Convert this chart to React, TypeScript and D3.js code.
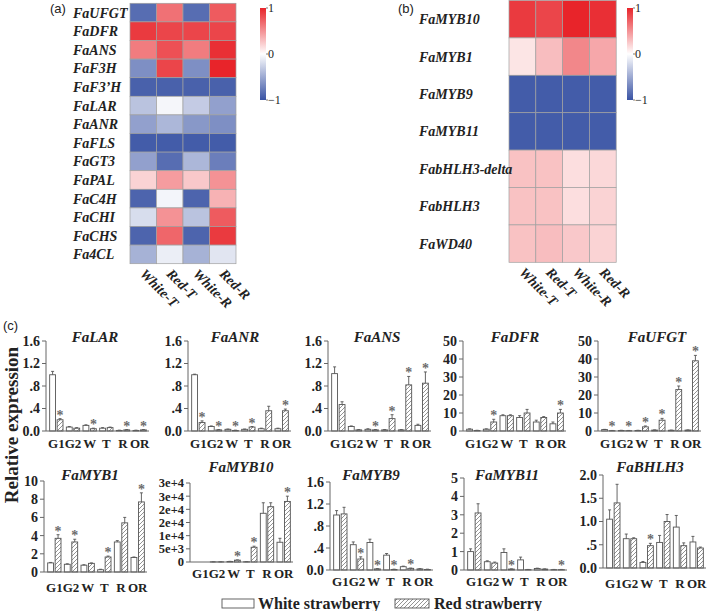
import React from "react";
import * as d3 from "d3";

// ---------- Heatmap data ----------
const heatCols = ["White-T", "Red-T", "White-R", "Red-R"];
const genesA = ["FaUFGT", "FaDFR", "FaANS", "FaF3H", "FaF3’H", "FaLAR", "FaANR", "FaFLS", "FaGT3", "FaPAL", "FaC4H", "FaCHI", "FaCHS", "Fa4CL"];
const valuesA = [
  [-0.85, 0.65, -0.85, 0.75],
  [0.9, 0.85, 0.85, 0.85],
  [0.6, 0.8, 0.6, 0.95],
  [-0.65, 0.85, -0.65, 1.0],
  [-0.92, -0.92, -0.92, -0.92],
  [-0.35, -0.05, -0.3, -0.55],
  [-0.55, -0.42, -0.6, -0.65],
  [-0.95, -0.95, -0.95, -0.95],
  [-0.55, -0.85, -0.42, -0.75],
  [0.2, 0.45, 0.25, 0.5],
  [-0.9, -0.06, -0.9, 0.35],
  [-0.2, 0.5, -0.35, 0.75],
  [-0.9, 0.7, -0.9, 0.9],
  [-0.45, -0.1, -0.45, -0.15],
];
const genesB = ["FaMYB10", "FaMYB1", "FaMYB9", "FaMYB11", "FabHLH3-delta", "FabHLH3", "FaWD40"];
const valuesB = [
  [0.9, 0.85, 1.0, 0.95],
  [0.12, 0.3, 0.55, 0.4],
  [-0.95, -0.95, -0.95, -0.95],
  [-0.95, -0.95, -0.95, -0.95],
  [0.28, 0.28, 0.15, 0.18],
  [0.28, 0.28, 0.15, 0.2],
  [0.28, 0.3, 0.25, 0.2],
];
const colorbarTicks = [1, 0, -1];
const colorbarLabels = ["1", "0", "−1"];

// ---------- Bar chart data ----------
const stages = ["G1", "G2", "W", "T", "R", "OR"];
const panelNames = ["FaLAR", "FaANR", "FaANS", "FaDFR", "FaUFGT", "FaMYB1", "FaMYB10", "FaMYB9", "FaMYB11", "FaBHLH3"];
const whiteVals = [
  [1.0, 0.07, 0.1, 0.05, 0.01, 0.01],
  [1.0, 0.08, 0.03, 0.03, 0.04, 0.04],
  [1.02, 0.08, 0.03, 0.02, 0.02, 0.1],
  [1, 1, 8.5, 7.5, 5, 4],
  [0.8, 0.3, 0.3, 0.5, 0.4, 0.5],
  [1.0, 0.85, 0.75, 0.25, 3.3, 1.6],
  [0, 60, 200, 100, 18500, 7500],
  [1.0, 0.46, 0.5, 0.27, 0.06, 0.02],
  [1.0, 0.45, 0.95, 0.55, 0.08, 0.02],
  [1.05, 0.63, 0.12, 0.55, 0.88, 0.56],
];
const redVals = [
  [0.2, 0.05, 0.04, 0.06, 0.02, 0.02],
  [0.15, 0.02, 0.01, 0.07, 0.36, 0.36],
  [0.47, 0.02, 0.02, 0.22, 0.82, 0.85],
  [0.3, 5, 8.5, 10, 7.5, 10],
  [0.2, 0.2, 2.3, 6, 23, 39],
  [3.7, 3.3, 0.95, 1.65, 5.4, 7.7],
  [0, 60, 700, 5600, 21000, 23000],
  [1.02, 0.2, 0.02, 0.01, 0.03, 0.01],
  [3.1, 0.38, 0.05, 0.02, 0.05, 0.02],
  [1.4, 0.63, 0.48, 1.0, 0.48, 0.43],
];
const whiteErr = [
  [0.06, 0.01, 0.01, 0.01, 0.005, 0.005],
  [0.01, 0.01, 0.005, 0.005, 0.01, 0.01],
  [0.12, 0.01, 0.01, 0.005, 0.005, 0.02],
  [0.2, 0.2, 0.5, 1, 1, 1],
  [0.1, 0.1, 0.1, 0.1, 0.1, 0.1],
  [0.05, 0.05, 0.05, 0.05, 0.15, 0.05],
  [0, 20, 50, 30, 4000, 1500],
  [0.08, 0.05, 0.06, 0.03, 0.01, 0.005],
  [0.15, 0.05, 0.2, 0.15, 0.02, 0.01],
  [0.2, 0.1, 0.02, 0.15, 0.25, 0.12],
];
const redErr = [
  [0.02, 0.01, 0.01, 0.01, 0.005, 0.005],
  [0.03, 0.005, 0.005, 0.01, 0.08, 0.03],
  [0.05, 0.005, 0.005, 0.07, 0.15, 0.2],
  [0.1, 1.5, 0.5, 2, 0.5, 2],
  [0.1, 0.1, 0.5, 1, 2, 3],
  [0.4, 0.3, 0.05, 0.1, 0.6, 1.0],
  [0, 20, 100, 400, 1500, 2000],
  [0.12, 0.04, 0.005, 0.005, 0.005, 0.005],
  [0.5, 0.05, 0.01, 0.01, 0.01, 0.01],
  [0.4, 0.02, 0.05, 0.15, 0.06, 0.02],
];
const redStars = [
  [1, 0, 1, 0, 1, 1],
  [1, 1, 1, 1, 0, 1],
  [0, 0, 1, 1, 1, 1],
  [0, 1, 0, 0, 0, 1],
  [1, 1, 1, 1, 1, 1],
  [1, 1, 0, 1, 0, 1],
  [0, 0, 1, 1, 0, 1],
  [0, 1, 1, 1, 1, 0],
  [0, 0, 1, 0, 0, 1],
  [0, 0, 1, 0, 0, 0],
];
const yMax = [1.6, 1.6, 1.6, 50, 50, 10, 30000, 1.6, 5, 2];
const yTicks = [
  [0, 0.4, 0.8, 1.2, 1.6],
  [0, 0.4, 0.8, 1.2, 1.6],
  [0, 0.4, 0.8, 1.2, 1.6],
  [0, 10, 20, 30, 40, 50],
  [0, 10, 20, 30, 40, 50],
  [0, 2, 4, 6, 8, 10],
  [0, 5000, 10000, 15000, 20000, 25000, 30000],
  [0, 0.4, 0.8, 1.2, 1.6],
  [0, 1, 2, 3, 4, 5],
  [0, 0.5, 1, 1.5, 2],
];
const yTickLabels = [
  ["0.0", ".4", ".8", "1.2", "1.6"],
  ["0.0", ".4", ".8", "1.2", "1.6"],
  ["0.0", ".4", ".8", "1.2", "1.6"],
  ["0", "10", "20", "30", "40", "50"],
  ["0", "10", "20", "30", "40", "50"],
  ["0", "2", "4", "6", "8", "10"],
  ["0", "5e+3", "1e+4", "2e+4", "2e+4", "3e+4", "3e+4"],
  ["0.0", ".4", ".8", "1.2", "1.6"],
  ["0", "1", "2", "3", "4", "5"],
  ["0.0", ".5", "1.0", "1.5", "2.0"],
];
const legendLabels = ["White strawberry", "Red strawberry"];

// ---------- Layout (positions only) ----------
const layout = [
  { x0: 46, top: 341, zero: 431, lab: 448, tx: 95, ty: 342, fs: 14 },
  { x0: 188, top: 341, zero: 431, lab: 448, tx: 235, ty: 342, fs: 14 },
  { x0: 328, top: 341, zero: 431, lab: 448, tx: 377, ty: 342, fs: 14 },
  { x0: 463, top: 341, zero: 431, lab: 448, tx: 515, ty: 342, fs: 14 },
  { x0: 598, top: 341, zero: 431, lab: 448, tx: 657, ty: 342, fs: 14 },
  { x0: 44, top: 481, zero: 572, lab: 592, tx: 90, ty: 480, fs: 14 },
  { x0: 190, top: 483, zero: 562, lab: 578, tx: 241, ty: 472, fs: 12.5 },
  { x0: 330, top: 482, zero: 570, lab: 586, tx: 371, ty: 480, fs: 14 },
  { x0: 464, top: 478, zero: 570, lab: 586, tx: 507, ty: 480, fs: 14 },
  { x0: 603, top: 475, zero: 568, lab: 588, tx: 650, ty: 472, fs: 14 },
];

const SERIF = "'Liberation Serif', 'Times New Roman', serif";
const SANS = "'Liberation Sans', Arial, sans-serif";
const AXIS = "#666";
const BAR = "#555";

const heatColor = d3
  .scaleLinear<string>()
  .domain([-1, 0, 1])
  .range(["#3953a4", "#ffffff", "#e8242a"])
  .interpolate(d3.interpolateRgb);

function Heatmap({ genes, values, x0, y0, colW, rowH, labelX, cbX }: any) {
  const x = d3.scaleBand().domain(heatCols).range([x0, x0 + colW * heatCols.length]);
  const y = d3.scaleBand().domain(genes).range([y0, y0 + rowH * genes.length]);
  const bottom = y0 + rowH * genes.length;
  const cb = d3.scaleLinear().domain([1, -1]).range([8, 100]);
  return (
    <g>
      {genes.map((g: string, i: number) => (
        <g key={g}>
          {heatCols.map((c, j) => (
            <rect key={c} x={x(c)} y={y(g)} width={x.bandwidth()} height={y.bandwidth()}
              fill={heatColor(values[i][j])} stroke="#a0a0a0" strokeWidth={0.7} />
          ))}
          <text x={labelX} y={(y(g) as number) + y.bandwidth() / 2} dy="0.35em"
            fontFamily={SERIF} fontWeight="bold" fontStyle="italic" fontSize={14} fill="#222">{g}</text>
        </g>
      ))}
      {heatCols.map((c) => {
        const ax = (x(c) as number) + x.bandwidth() / 2 - 4;
        const ay = bottom + 11;
        return (
          <text key={c} x={ax} y={ay} transform={`rotate(45 ${ax} ${ay})`}
            fontFamily={SERIF} fontWeight="bold" fontStyle="italic" fontSize={14} fill="#222">{c}</text>
        );
      })}
      <rect x={cbX} y={8} width={6} height={92} fill={`url(#cbgrad)`} />
      {colorbarTicks.map((t, i) => (
        <g key={t}>
          <line x1={cbX + 6} x2={cbX + 8} y1={cb(t)} y2={cb(t)} stroke="#444" strokeWidth={0.7} />
          <text x={cbX + 8} y={cb(t)} dy="0.35em" fontFamily={SERIF} fontSize={12} fill="#222">{colorbarLabels[i]}</text>
        </g>
      ))}
    </g>
  );
}

function BarPanel({ idx }: { idx: number }) {
  const L = layout[idx];
  const x = d3.scaleBand().domain(stages).range([L.x0 + 2, L.x0 + 102]).paddingInner(0.2).paddingOuter(0.1);
  const y = d3.scaleLinear().domain([0, yMax[idx]]).range([L.zero, L.top]);
  const half = x.bandwidth() / 2;
  const bw = half - 0.8;
  return (
    <g>
      <text x={L.tx} y={L.ty} textAnchor="middle" fontFamily={SERIF} fontWeight="bold" fontStyle="italic" fontSize={15} fill="#222">{panelNames[idx]}</text>
      {stages.map((s, i) => {
        const xw = x(s) as number;
        const xr = xw + half + 0.8;
        const wv = whiteVals[idx][i];
        const rv = redVals[idx][i];
        const wTop = y(wv + whiteErr[idx][i]);
        const rTop = y(rv + redErr[idx][i]);
        return (
          <g key={s}>
            <rect x={xw} y={y(wv)} width={bw} height={L.zero - y(wv)} fill="#fff" stroke={BAR} strokeWidth={0.9} />
            {whiteErr[idx][i] > 0 && (
              <g stroke={BAR} strokeWidth={0.9}>
                <line x1={xw + bw / 2} x2={xw + bw / 2} y1={y(wv)} y2={wTop} />
                <line x1={xw + bw / 2 - 1.5} x2={xw + bw / 2 + 1.5} y1={wTop} y2={wTop} />
              </g>
            )}
            <rect x={xr} y={y(rv)} width={bw} height={L.zero - y(rv)} fill="url(#hatch)" stroke={BAR} strokeWidth={0.9} />
            {redErr[idx][i] > 0 && (
              <g stroke={BAR} strokeWidth={0.9}>
                <line x1={xr + bw / 2} x2={xr + bw / 2} y1={y(rv)} y2={rTop} />
                <line x1={xr + bw / 2 - 1.5} x2={xr + bw / 2 + 1.5} y1={rTop} y2={rTop} />
              </g>
            )}
            {redStars[idx][i] === 1 && (
              <text x={xr + bw / 2} y={rTop + 1} textAnchor="middle" fontFamily={SERIF} fontWeight="bold" fontSize={14} fill="#6a6a6a" opacity={0.99}>*</text>
            )}
            <text x={xw + half} y={L.lab} textAnchor="middle" fontFamily={SERIF} fontWeight="bold" fontSize={13} fill="#222">{s}</text>
          </g>
        );
      })}
      <line x1={L.x0} x2={L.x0} y1={L.zero} y2={L.top} stroke={AXIS} strokeWidth={1} />
      <line x1={L.x0} x2={L.x0 + 103} y1={L.zero} y2={L.zero} stroke={AXIS} strokeWidth={1} />
      {yTicks[idx].map((t, i) => (
        <g key={i}>
          <line x1={L.x0 - 4} x2={L.x0} y1={y(t)} y2={y(t)} stroke={AXIS} strokeWidth={1} />
          <text x={L.x0 - 6} y={y(t)} dy="0.35em" textAnchor="end" fontFamily={SERIF} fontWeight="bold" fontSize={L.fs} fill="#222">{yTickLabels[idx][i]}</text>
        </g>
      ))}
    </g>
  );
}

export default function App() {
  return (
    <svg width={709} height={611} style={{ position: "absolute", left: 0, top: 0, background: "#fff" }}>
      <defs>
        <pattern id="hatch" patternUnits="userSpaceOnUse" width={4} height={4}>
          <path d="M-1,1 l2,-2 M0,4 l4,-4 M3,5 l2,-2" stroke="#666" strokeWidth={0.7} />
        </pattern>
        <linearGradient id="cbgrad" x1="0" y1="0" x2="0" y2="1">
          <stop offset="0%" stopColor={heatColor(1)} />
          <stop offset="50%" stopColor={heatColor(0)} />
          <stop offset="100%" stopColor={heatColor(-1)} />
        </linearGradient>
      </defs>
      <rect x={0} y={0} width={709} height={611} fill="#fff" />
      <text x={50} y={13} fontFamily={SANS} fontSize={13} fill="#222">(a)</text>
      <text x={398} y={13} fontFamily={SANS} fontSize={13} fill="#222">(b)</text>
      <text x={3} y={330} fontFamily={SANS} fontSize={13} fill="#222">(c)</text>
      <Heatmap genes={genesA} values={valuesA} x0={130} y0={3.3} colW={26.5} rowH={18.6} labelX={73} cbX={260} />
      <Heatmap genes={genesB} values={valuesB} x0={509} y0={0.5} colW={26.8} rowH={37.4} labelX={419} cbX={627} />
      {panelNames.map((_, i) => (
        <BarPanel key={i} idx={i} />
      ))}
      <text transform="translate(18,425) rotate(-90)" textAnchor="middle" fontFamily={SERIF} fontWeight="bold" fontSize={19} fill="#222">Relative expression</text>
      <rect x={222} y={599} width={32} height={9} fill="#fff" stroke={BAR} strokeWidth={0.9} />
      <text x={258} y={609} fontFamily={SERIF} fontWeight="bold" fontSize={16} fill="#222">{legendLabels[0]}</text>
      <rect x={395} y={599} width={34} height={9} fill="url(#hatch)" stroke={BAR} strokeWidth={0.9} />
      <text x={434} y={609} fontFamily={SERIF} fontWeight="bold" fontSize={16} fill="#222">{legendLabels[1]}</text>
    </svg>
  );
}
